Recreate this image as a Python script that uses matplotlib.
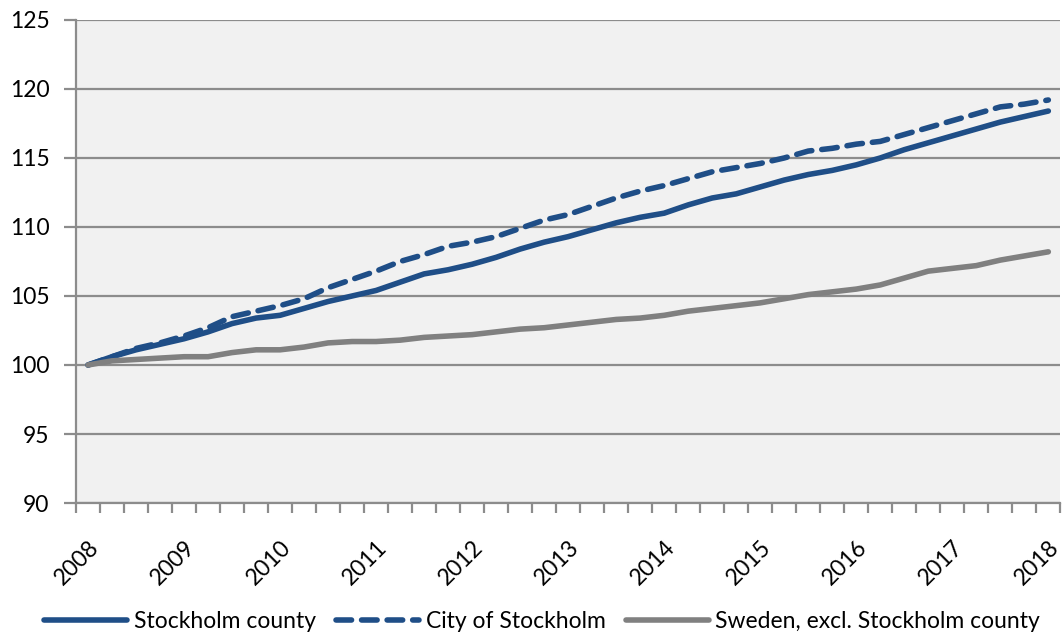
import matplotlib
matplotlib.use('Agg')
import matplotlib.pyplot as plt
import numpy as np

plt.rcParams['font.family'] = ['Lato', 'DejaVu Sans']

years = [str(y) for y in range(2008, 2019)]

# quarterly index, 2008Q1 = 100 (41 quarters, 2008Q1..2018Q1)
stockholm_county = [100.0, 100.6, 101.1, 101.5, 101.9, 102.4, 103.0, 103.4, 103.6, 104.1,
                    104.6, 105.0, 105.4, 106.0, 106.6, 106.9, 107.3, 107.8, 108.4, 108.9,
                    109.3, 109.8, 110.3, 110.7, 111.0, 111.6, 112.1, 112.4, 112.9, 113.4,
                    113.8, 114.1, 114.5, 115.0, 115.6, 116.1, 116.6, 117.1, 117.6, 118.0, 118.4]
city_stockholm = [100.0, 100.6, 101.2, 101.6, 102.1, 102.7, 103.5, 103.9, 104.3, 104.8,
                  105.6, 106.2, 106.8, 107.5, 108.0, 108.6, 108.9, 109.3, 109.9, 110.5,
                  110.9, 111.5, 112.1, 112.6, 113.0, 113.5, 114.0, 114.3, 114.6, 115.0,
                  115.5, 115.7, 116.0, 116.2, 116.7, 117.2, 117.7, 118.2, 118.7, 118.9, 119.2]
sweden_excl = [100.0, 100.3, 100.4, 100.5, 100.6, 100.6, 100.9, 101.1, 101.1, 101.3,
               101.6, 101.7, 101.7, 101.8, 102.0, 102.1, 102.2, 102.4, 102.6, 102.7,
               102.9, 103.1, 103.3, 103.4, 103.6, 103.9, 104.1, 104.3, 104.5, 104.8,
               105.1, 105.3, 105.5, 105.8, 106.3, 106.8, 107.0, 107.2, 107.6, 107.9, 108.2]

labels = ['Stockholm county', 'City of Stockholm', 'Sweden, excl. Stockholm county']
blue = '#1F4E87'
grey = '#808080'
axis_grey = '#8C8C8C'

x = np.arange(len(stockholm_county))

fig = plt.figure(figsize=(10.63, 6.39), dpi=100)
ax = fig.add_axes([0.0715, 0.2128, 0.926, 0.756])
ax.set_facecolor('#F1F1F1')

ax.plot(x, stockholm_county, color=blue, lw=4, solid_capstyle='round', label=labels[0])
ax.plot(x, city_stockholm, color=blue, lw=4, dashes=(2.8, 1.8), dash_capstyle='round', label=labels[1])
ax.plot(x, sweden_excl, color=grey, lw=4, solid_capstyle='round', label=labels[2])

ax.set_xlim(-0.5, len(x) - 0.5)
ax.set_ylim(90, 125)
ax.set_yticks(np.arange(90, 126, 5))
ax.yaxis.grid(True, color=axis_grey, lw=1.6)
ax.set_axisbelow(True)

ax.set_xticks(np.arange(0, len(x), 4))
ax.set_xticklabels(years, rotation=45, ha='right', rotation_mode='anchor')
ax.set_xticks(np.arange(-0.5, len(x), 1), minor=True)
ax.tick_params(axis='x', which='major', length=0, pad=24, labelsize=16.5)
ax.tick_params(axis='x', which='minor', length=7, width=1.6, color=axis_grey)
ax.tick_params(axis='y', length=9, width=1.6, color=axis_grey, labelsize=16.5, pad=10)

for side in ['top', 'right']:
    ax.spines[side].set_visible(False)
for side in ['left', 'bottom']:
    ax.spines[side].set_color(axis_grey)
    ax.spines[side].set_linewidth(1.6)

fig.legend(loc='lower center', bbox_to_anchor=(0.51, -0.022), ncol=3, frameon=False,
           fontsize=16.5, handlelength=3.6, handletextpad=0.3, columnspacing=0.9)

fig.savefig('out.png', dpi=100, facecolor='white')
